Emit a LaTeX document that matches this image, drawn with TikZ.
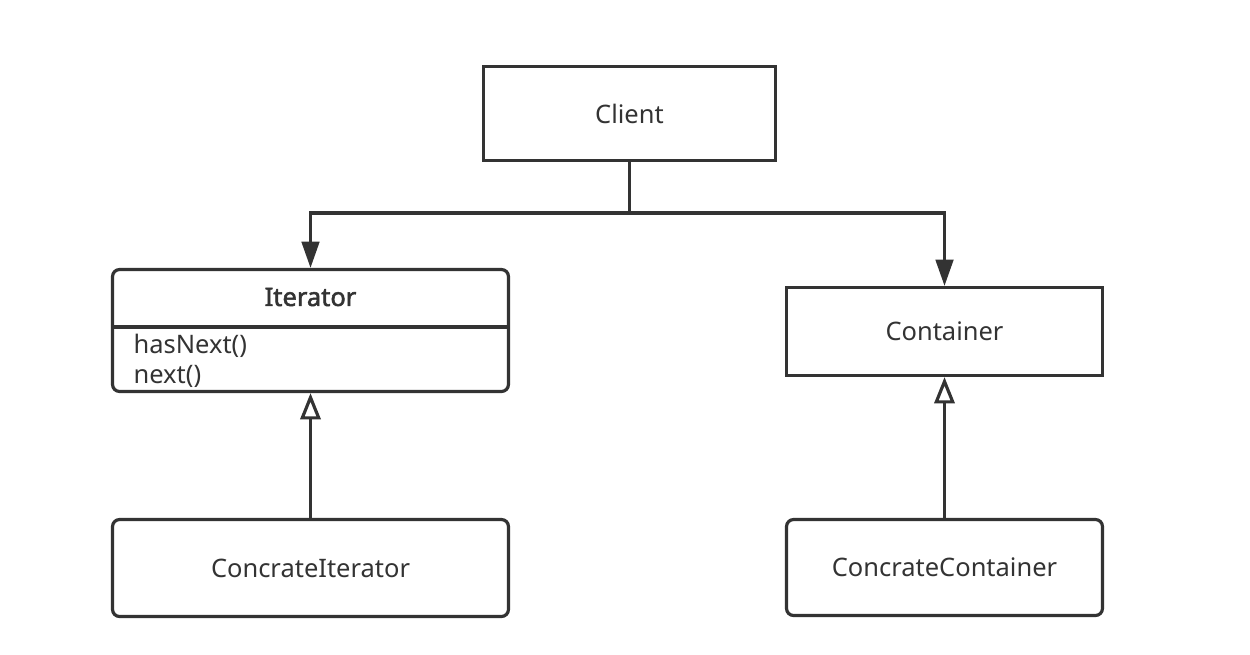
\documentclass[tikz,border=0pt]{standalone}
\usepackage{fontspec}
\setmainfont{Noto Sans}[AutoFakeBold=2]
\usetikzlibrary{positioning,arrows.meta}
\definecolor{ink}{HTML}{333333}
\begin{document}
\begin{tikzpicture}[x=0.02cm, y=-0.02cm, line width=1.8pt, draw=ink, text=ink,
    font=\fontsize{14.5}{17}\selectfont,
    classbox/.style={draw=ink, rectangle, align=center},
    uses/.style={-{Triangle[length=15pt, width=10pt]}},
    extends/.style={-{Triangle[open, length=15pt, width=11.5pt, fill=white]}}]
        \useasboundingbox (0,0) rectangle (1250,654);
        % Define the class boxes
        \node[classbox, minimum width=5.84cm, minimum height=1.88cm] (client) at (629.5,113.5) {Client};
        \node[classbox, rounded corners=4pt, minimum width=7.92cm, minimum height=2.44cm] (iter) at (310.5,330.5) {};
        \node[classbox, minimum width=6.32cm, minimum height=1.76cm] (cont) at (944.5,331.5) {Container};
        \node[classbox, rounded corners=4pt, minimum width=7.92cm, minimum height=1.94cm] (citer) at (310.5,568) {ConcrateIterator};
        \node[classbox, rounded corners=4pt, minimum width=6.32cm, minimum height=1.92cm] (ccont) at (944.5,567.5) {ConcrateContainer};

        % Iterator compartments
        \node (itername) at (310.5,297) {\bfseries Iterator};
        \draw (iter.west |- 0,327) -- (iter.east |- 0,327);
        \node[anchor=west, align=left, inner sep=0pt] (itermeth) at (132,361) {hasNext()\\next()};

        % Client uses both
        \coordinate (fork) at (client.south |- 0,213);
        \draw (client.south) -- (fork);
        \draw[uses] (fork) -| (iter.north);
        \draw[uses] (fork) -| (cont.north);

        % Generalisation arrows
        \draw[extends] (citer.north) -- (iter.south);
        \draw[extends] (ccont.north) -- (cont.south);
    \end{tikzpicture}
\end{document}
